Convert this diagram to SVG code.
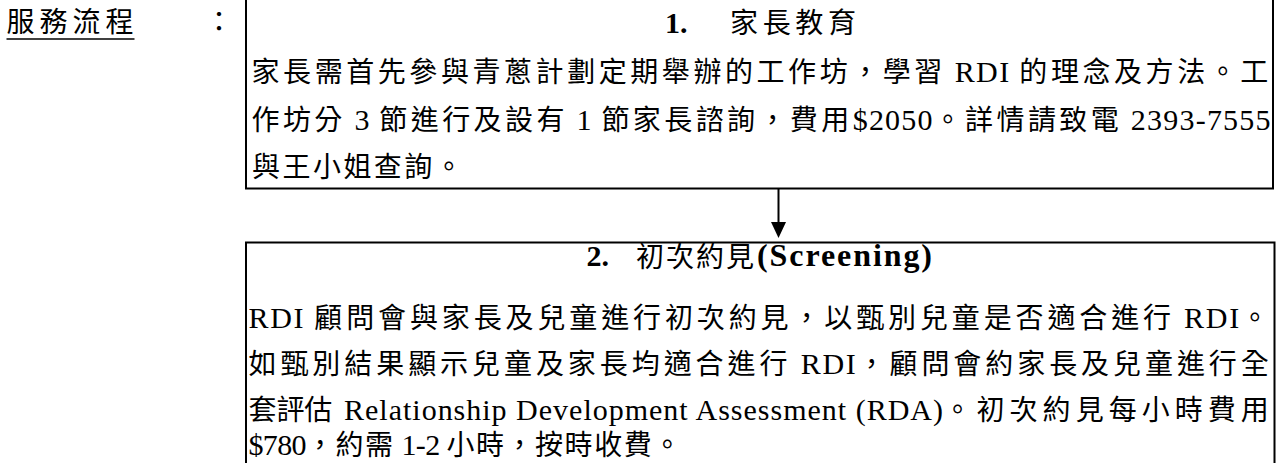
<svg xmlns="http://www.w3.org/2000/svg" width="1284" height="463" viewBox="0 0 1284 463">
<defs>
<style>
text { font-family: "Liberation Serif", "Noto Sans CJK TC", serif; font-size: 28px; fill: #000; }
.body { letter-spacing: 3.2px; }
.lat { font-family: "Liberation Serif", serif; font-size: 30px; letter-spacing: 1px; }
.b { font-weight: bold; }
.box { fill: none; stroke: #000; stroke-width: 2; }
.conn { stroke: #000; stroke-width: 2; fill: none; }
</style>
<marker id="arrow" markerUnits="userSpaceOnUse" markerWidth="16" markerHeight="15" refX="8" refY="7.5" orient="auto" viewBox="0 0 16 15">
<path d="M0,0 L16,7.5 L0,15 z" fill="#000"/>
</marker>
</defs>
<rect width="1284" height="463" fill="#fff"/>

<g id="label">
<text x="6.5" y="31.5" textLength="127" lengthAdjust="spacing">服務流程</text>
<line x1="6.5" y1="39" x2="134.5" y2="39" stroke="#000" stroke-width="1.5"/>
<text x="205" y="31.5">：</text>
</g>

<g id="node1">
<rect class="box" x="246" y="-10" width="1027" height="198.5"/>
<text x="665" y="32.5" class="lat b" style="letter-spacing:0">1.</text>
<text x="730" y="33" textLength="126" lengthAdjust="spacing">家長教育</text>
<text class="body" x="251.5" y="82" textLength="1020" lengthAdjust="spacing">家長需首先參與青蔥計劃定期舉辦的工作坊，學習<tspan class="lat"> RDI </tspan>的理念及方法。工</text>
<text class="body" x="251.5" y="129.5" textLength="1020" lengthAdjust="spacing">作坊分<tspan class="lat"> 3 </tspan>節進行及設有<tspan class="lat"> 1 </tspan>節家長諮詢，費用<tspan class="lat">$2050</tspan>。詳情請致電<tspan class="lat"> 2393-7555</tspan></text>
<text class="body" x="252" y="177" textLength="214" lengthAdjust="spacing">與王小姐查詢。</text>
</g>

<g id="connectors">
<line class="conn" x1="778.5" y1="189" x2="778.5" y2="230" marker-end="url(#arrow)"/>
</g>

<g id="node2">
<rect class="box" x="246" y="242.5" width="1028.5" height="240"/>
<text x="586.5" y="265.5" class="lat b" style="letter-spacing:0">2.</text>
<text x="636" y="266.5" textLength="118" lengthAdjust="spacing">初次約見</text>
<text x="757" y="265.5" class="lat b" style="font-size:32px;letter-spacing:0" textLength="175" lengthAdjust="spacing">(Screening)</text>
<text class="body" x="248.5" y="328" textLength="1023.5" lengthAdjust="spacing"><tspan class="lat">RDI </tspan>顧問會與家長及兒童進行初次約見，以甄別兒童是否適合進行<tspan class="lat"> RDI</tspan>。</text>
<text class="body" x="248.5" y="374" textLength="1023.5" lengthAdjust="spacing">如甄別結果顯示兒童及家長均適合進行<tspan class="lat"> RDI</tspan>，顧問會約家長及兒童進行全</text>
<text class="body" x="248.5" y="420" textLength="87" lengthAdjust="spacing">套評估</text>
<text x="344" y="420" class="lat" style="letter-spacing:0" textLength="599" lengthAdjust="spacing">Relationship Development Assessment (RDA)</text>
<text class="body" x="943.5" y="420" textLength="328.5" lengthAdjust="spacing">。初次約見每小時費用</text>
<text class="body" x="248.5" y="455" textLength="436" lengthAdjust="spacing"><tspan class="lat">$780</tspan>，約需<tspan class="lat"> 1-2 </tspan>小時，按時收費。</text>
</g>
</svg>
